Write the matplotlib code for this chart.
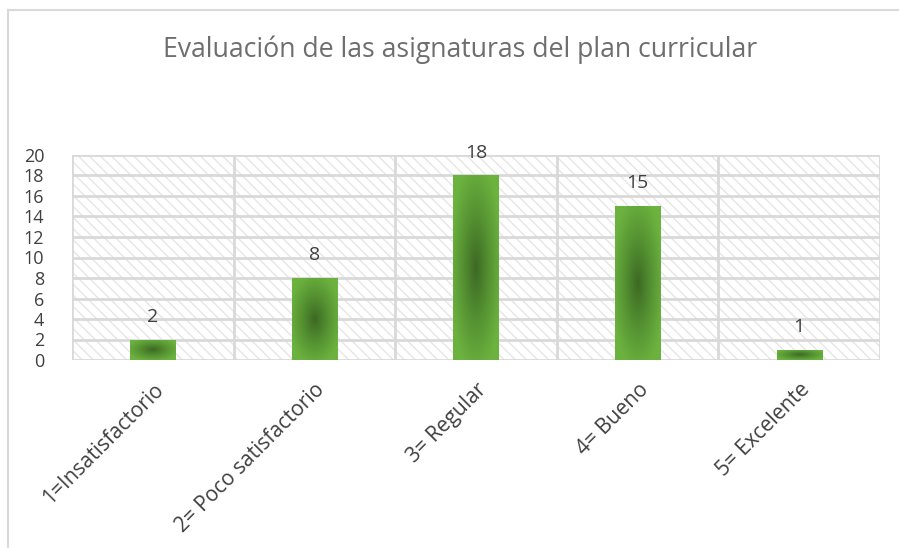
import matplotlib.pyplot as plt
import numpy as np
from matplotlib.colors import LinearSegmentedColormap
from matplotlib.patches import Rectangle
from matplotlib.lines import Line2D

categories = ["1=Insatisfactorio", "2= Poco satisfactorio", "3= Regular",
              "4= Bueno", "5= Excelente"]
values = [2, 8, 18, 15, 1]
yticks = [0, 2, 4, 6, 8, 10, 12, 14, 16, 18, 20]
title = "Evaluación de las asignaturas del plan curricular"

plt.rcParams['font.family'] = ['Open Sans', 'DejaVu Sans']
plt.rcParams['hatch.linewidth'] = 1.0

fig = plt.figure(figsize=(8.99, 5.48), dpi=100)
ax = fig.add_axes([72 / 899, 188 / 548, 808 / 899, 205 / 548])

# chart frame (only top and left edges visible)
fig.add_artist(Line2D([8 / 899, 8 / 899], [0, 1 - 10 / 548], color='#d9d9d9', lw=1.5))
fig.add_artist(Line2D([8 / 899, 1], [1 - 10 / 548, 1 - 10 / 548], color='#d9d9d9', lw=1.5))

x = np.arange(len(categories))
ax.set_xlim(-0.5, len(categories) - 0.5)
ax.set_ylim(0, 20)

# hatched plot background
bg = Rectangle((0, 0), 1, 1, transform=ax.transAxes, facecolor='white',
               edgecolor='#e6e6e6', hatch='\\\\\\', lw=0, zorder=0)
ax.add_patch(bg)

for y in yticks:
    ax.axhline(y, color='#d9d9d9', lw=2, zorder=1)
for b in np.arange(-0.5, len(categories), 1.0):
    ax.axvline(b, color='#d9d9d9', lw=2, zorder=1)

cmap = LinearSegmentedColormap.from_list('g', ['#3d6a24', '#559232', '#6cb23f'])
bars = ax.bar(x, values, width=0.28, color='none', zorder=2)
uu, vv = np.meshgrid(np.linspace(-1, 1, 60), np.linspace(-1, 1, 200))
grad = np.clip(np.sqrt(uu ** 2 + vv ** 2) / 1.15, 0, 1)
for bar in bars:
    x0, y0 = bar.get_x(), bar.get_y()
    w, h = bar.get_width(), bar.get_height()
    im = ax.imshow(grad, cmap=cmap, extent=[x0, x0 + w, y0, y0 + h],
                   aspect='auto', origin='lower', zorder=2, interpolation='bilinear')
    im.set_clip_path(bar)

for xi, v in zip(x, values):
    ax.annotate(str(v), (xi, v), xytext=(0, 10), textcoords='offset points',
                ha='center', va='bottom', fontsize=14, color='#404040')

# title centred on the chart frame
fig.text(460 / 899, 1 - 50 / 548, title, fontsize=19.2, color='#6e6e6e',
         ha='center', va='center')

ax.set_yticks(yticks)
ax.set_yticklabels([str(t) for t in yticks], fontsize=13, color='#404040')
ax.set_xticks(x)
ax.set_xticklabels(categories, rotation=45, ha='right', va='top',
                   rotation_mode='anchor', fontsize=15, color='#404040')
ax.tick_params(axis='both', length=0)
ax.tick_params(axis='y', pad=20)
ax.tick_params(axis='x', pad=14)
for s in ax.spines.values():
    s.set_visible(False)

fig.savefig('out.png', dpi=100)
